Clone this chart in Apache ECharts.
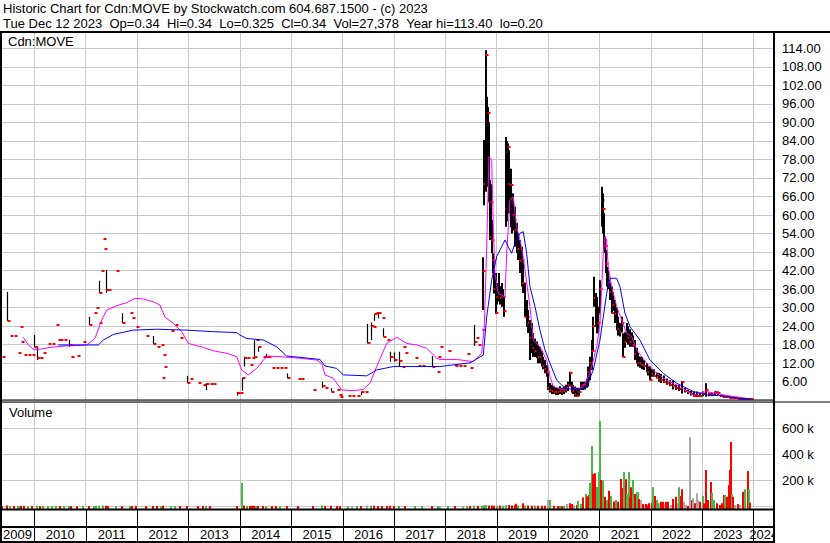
<!DOCTYPE html>
<html><head><meta charset="utf-8">
<script src="https://cdn.jsdelivr.net/npm/echarts@6/dist/echarts.min.js"></script>
<style>html,body{margin:0;padding:0;background:#fff}#c{width:830px;height:543px}</style>
</head><body><div id="c"></div>
<script>
// ---------- DATA ----------
const headerLine1 = 'Historic Chart for Cdn:MOVE by Stockwatch.com 604.687.1500 - (c) 2023';
const headerLine2 = 'Tue Dec 12 2023  Op=0.34  Hi=0.34  Lo=0.325  Cl=0.34  Vol=27,378  Year hi=113.40  lo=0.20';
const symbolName = 'Cdn:MOVE';
const volumeTitle = 'Volume';
const yearLabels = ['2009','2010','2011','2012','2013','2014','2015','2016','2017','2018','2019','2020','2021','2022','2023','2024'];
const yearBoundaries = [2010,2011,2012,2013,2014,2015,2016,2017,2018,2019,2020,2021,2022,2023,2024];
const timeRange = [2009.332, 2024.397];
const priceRange = [0, 119.3];
const priceStep = 6;
const volumeRange = [0, 800000];
const volumeStep = 200000;

// OHLC bars: time (decimal year), high, low, close
const barT = [2009.371,2009.474,2009.527,2009.604,2009.682,2009.721,2009.741,2009.799,2009.877,2009.955,
2010.000,2010.046,2010.111,2010.169,2010.266,2010.344,2010.422,2010.455,2010.500,2010.578,2010.681,2010.714,2010.831,2010.942,
2011.070,2011.162,2011.200,2011.253,2011.265,2011.298,2011.331,2011.356,2011.395,2011.434,2011.584,2011.706,2011.862,2011.901,2011.979,
2012.168,2012.304,2012.388,2012.466,2012.490,2012.510,2012.530,2012.660,2012.738,2012.835,2012.972,
2013.030,2013.191,2013.277,2013.336,2013.419,2013.478,2013.939,
2014.003,2014.048,2014.081,2014.139,2014.198,2014.237,2014.276,2014.309,2014.359,2014.451,2014.503,2014.548,2014.620,2014.704,2014.782,2014.860,2014.924,
2015.132,2015.190,2015.430,2015.599,2015.657,2015.774,2015.891,2015.930,2015.949,
2016.105,2016.183,2016.280,2016.358,2016.436,2016.481,2016.547,2016.586,2016.611,2016.650,2016.695,2016.761,2016.792,2016.858,2016.917,
2017.006,2017.098,2017.150,2017.170,2017.215,2017.409,2017.468,2017.545,2017.746,2017.832,2017.851,2017.896,
2018.051,2018.188,2018.266,2018.343,2018.415,2018.480,2018.557,2018.596,2018.635,2018.707,
2018.739,2018.758,2018.785,2018.805,2018.824,2018.855,2018.869,2018.888,2018.914,2018.933,2018.953,2018.986,
2019.015,2019.050,2019.073,2019.097,2019.122,2019.147,2019.180,2019.194,2019.213,2019.239,2019.272,2019.291,2019.322,2019.355,2019.389,2019.420,2019.453,2019.486,2019.517,2019.550,2019.583,2019.614,2019.647,2019.680,2019.712,2019.745,2019.778,2019.809,2019.842,2019.875,2019.906,2019.939,2019.972,
2020.004,2020.037,2020.076,2020.114,2020.153,2020.192,2020.231,2020.270,2020.309,2020.348,2020.387,2020.426,2020.459,2020.494,2020.523,2020.562,2020.601,2020.640,2020.679,2020.718,2020.757,2020.782,2020.815,2020.848,2020.879,2020.899,2020.926,2020.946,2020.977,
2021.010,2021.043,2021.062,2021.088,2021.107,2021.127,2021.152,2021.171,2021.204,2021.237,2021.269,2021.302,2021.335,2021.366,2021.399,2021.432,2021.463,2021.496,2021.529,2021.561,2021.594,2021.627,2021.658,2021.691,2021.724,2021.755,2021.788,2021.827,2021.866,2021.919,2021.954,2021.983,
2022.022,2022.061,2022.113,2022.158,2022.207,2022.255,2022.314,2022.372,2022.431,2022.489,2022.547,2022.612,2022.664,2022.723,2022.781,2022.839,2022.898,2022.956,
2023.014,2023.073,2023.131,2023.190,2023.248,2023.306,2023.365,2023.423,2023.482,2023.540,2023.598,2023.657,2023.715,2023.774,2023.832,2023.890,2023.949];
const barHigh = [14.1,35.1,20.9,20.9,15.4,23.8,19.0,14.6,14.6,14.6,
21.1,17.3,13.6,15.3,18.2,18.2,24.4,19.5,19.5,19.5,19.5,14.1,14.3,19.0,
27.0,28.2,29.9,25.1,38.7,41.8,52.3,49.0,42.2,35.7,41.9,28.2,28.1,26.7,23.8,
20.8,20.8,17.3,17.9,7.3,14.6,10.9,22.5,24.4,20.1,7.9,
7.0,5.7,4.9,5.5,5.2,5.2,2.7,
2.3,7.3,14.1,13.6,11.4,13.6,19.5,19.5,17.3,14.1,15.0,14.1,10.5,10.5,10.5,10.5,8.7,
6.9,6.9,3.3,6.0,4.0,3.9,3.3,1.6,1.1,
1.4,1.4,1.4,2.8,2.5,24.7,25.2,23.8,27.9,28.1,28.1,26.7,23.3,19.5,15.7,
15.5,15.7,10.9,17.3,15.2,13.8,11.1,11.1,14.3,9.2,14.1,17.3,
16.0,11.5,11.1,11.1,15.0,10.5,24.4,20.0,18.0,22.7,
46.3,84.3,113.4,98.3,95.0,90.0,71.3,70.0,58.4,47.6,42.2,41.2,
38.0,41.2,37.0,38.0,36.0,33.5,85.3,84.0,83.2,81.0,75.0,67.0,67.0,62.7,57.4,54.1,51.9,49.7,45.4,38.0,32.5,29.2,26.0,25.0,21.8,20.0,19.0,18.0,17.3,16.0,14.1,13.0,11.4,
8.7,5.6,5.0,4.5,4.0,4.0,4.5,4.0,4.5,5.0,6.0,9.2,6.0,5.0,4.4,4.0,4.0,6.0,6.0,6.0,7.0,10.9,14.1,19.5,27.0,40.0,34.7,33.5,30.3,
38.9,69.2,67.0,60.6,53.0,48.7,43.2,42.0,38.0,36.8,35.0,32.5,30.0,27.0,25.0,27.0,21.7,22.0,25.0,24.0,23.0,22.0,21.0,19.5,17.0,15.3,14.1,14.0,13.0,12.0,11.0,10.9,
10.0,10.0,9.0,8.8,8.5,8.0,7.0,6.5,6.5,5.0,5.0,6.2,4.0,3.5,3.0,2.8,2.8,2.5,
2.8,5.5,2.5,2.3,2.8,2.8,1.7,1.5,1.3,1.2,1.0,0.9,0.8,0.7,0.6,0.5,0.34];
const barLow = [14.1,25.7,20.9,20.9,15.4,23.8,19.0,14.6,14.6,14.6,
17.3,13.0,13.6,15.3,18.2,18.2,24.4,19.5,19.5,19.5,17.3,14.1,14.3,19.0,
24.4,28.2,29.9,25.1,34.8,41.8,52.3,49.0,34.8,35.7,41.9,25.1,28.1,26.7,23.8,
20.8,18.2,17.3,17.9,7.3,14.6,10.9,22.5,24.4,20.1,5.6,
7.0,5.7,4.9,3.3,5.2,5.2,1.5,
2.3,3.1,10.9,13.6,11.4,13.6,14.1,19.5,15.7,14.1,13.7,14.1,10.5,10.5,10.5,10.5,7.1,
6.9,6.9,3.3,4.0,4.0,2.8,3.3,1.6,1.1,
1.4,1.4,1.4,1.7,2.5,18.4,19.5,23.8,25.7,28.1,26.5,26.7,20.6,19.5,12.5,
12.5,10.9,10.9,17.3,15.2,13.8,11.1,11.1,10.9,9.2,14.1,17.3,
16.0,11.1,11.1,11.1,15.0,10.5,17.6,20.0,18.0,22.7,
29.2,63.2,67.5,83.2,69.2,64.3,51.9,55.0,47.6,41.1,34.6,28.0,
31.0,32.0,31.0,30.3,31.0,27.0,56.2,58.0,60.5,60.6,56.0,54.0,55.0,49.7,47.7,45.4,41.2,36.8,34.7,27.0,23.8,21.8,13.0,15.3,14.0,14.0,13.7,12.0,12.0,10.9,10.0,8.7,7.6,
3.3,2.5,2.0,2.0,1.7,1.7,2.0,1.7,2.0,2.5,3.0,4.4,2.5,2.0,1.1,1.1,1.5,3.3,3.3,3.5,4.0,4.4,6.5,9.8,16.3,30.3,23.8,21.7,21.7,
28.2,56.2,54.0,48.7,47.7,41.2,36.8,36.0,32.5,28.2,29.0,25.0,22.7,21.0,20.6,22.0,14.1,17.0,19.0,18.0,17.3,17.3,17.3,13.0,12.0,10.9,10.5,10.0,9.8,9.0,8.0,6.5,
7.6,7.6,7.0,6.0,5.6,5.6,5.0,4.5,3.5,3.3,3.0,2.2,2.5,2.0,1.5,1.1,1.1,1.1,
1.3,1.1,1.3,1.3,1.7,1.7,1.0,0.8,0.7,0.6,0.5,0.4,0.3,0.3,0.3,0.3,0.325];
const barClose = [14.1,25.7,20.9,20.9,15.4,23.8,19.0,14.6,14.6,14.6,
17.3,13.7,13.6,15.3,18.2,18.2,24.4,19.5,19.5,19.5,18.0,14.1,14.3,19.0,
24.4,28.2,29.9,25.1,34.8,41.8,52.3,49.0,35.7,35.7,41.9,25.1,28.1,26.7,23.8,
20.8,18.2,17.3,17.9,7.3,14.6,10.9,22.5,24.4,20.1,5.6,
7.0,5.7,4.9,5.2,5.2,5.2,2.3,
2.3,7.3,13.6,13.6,11.4,13.6,14.1,19.5,17.3,14.1,14.1,14.1,10.5,10.5,10.5,10.5,7.1,
6.9,6.9,3.3,4.5,4.0,2.8,3.3,1.6,1.1,
1.4,1.4,1.4,2.8,2.5,18.4,24.0,23.8,27.9,28.1,28.1,26.7,20.6,19.5,14.1,
13.0,12.7,10.9,17.3,15.2,13.8,11.1,11.1,10.9,9.2,14.1,17.3,
16.0,11.1,11.1,11.1,15.0,10.5,19.0,20.0,18.0,22.7,
42.0,70.0,112.0,90.0,93.0,64.3,52.9,64.3,52.0,45.4,36.0,28.2,
33.5,34.6,33.0,33.5,33.5,29.0,62.0,80.0,82.0,70.0,69.7,62.0,60.0,55.0,50.0,49.0,45.0,45.4,38.0,27.0,27.0,25.0,20.0,18.0,17.0,16.0,15.5,14.0,14.0,13.0,11.0,10.0,9.0,
4.0,3.3,3.0,2.8,2.5,2.5,3.0,2.5,3.0,3.3,5.0,8.7,4.0,3.0,2.0,1.3,2.5,4.4,5.0,5.0,6.0,9.0,12.0,16.0,24.0,33.0,30.0,28.0,25.0,
36.0,65.0,62.0,52.0,50.0,44.0,40.0,38.0,35.0,28.2,31.0,28.0,25.0,23.0,22.0,25.0,14.1,19.0,22.0,20.0,19.0,19.0,18.0,15.0,14.0,12.0,12.0,11.5,11.0,10.0,9.0,6.5,
8.5,8.0,7.5,7.0,6.5,6.0,5.5,5.0,4.5,4.0,3.5,6.0,3.0,2.5,2.0,1.5,1.5,1.5,
2.0,3.3,2.0,1.7,2.5,2.3,1.2,1.0,0.9,0.8,0.7,0.6,0.5,0.4,0.4,0.35,0.34];

// Short moving average (magenta)
const maFastT = [2009.785,2009.883,2009.980,2010.111,2010.305,2010.630,2011.019,2011.181,2011.311,2011.409,2011.634,2011.798,2011.959,2012.121,2012.316,2012.446,2012.543,2012.705,2012.868,2012.997,2013.289,2013.483,2013.744,2013.939,2014.036,2014.165,2014.328,2014.490,2014.554,2014.782,2015.171,2015.496,2015.593,2015.657,2015.819,2015.983,2016.208,2016.403,2016.533,2016.664,2016.858,2017.053,2017.248,2017.442,2017.637,2017.832,2017.896,2018.221,2018.544,2018.707,2018.758,2018.805,2018.849,2018.902,2018.933,2018.966,2019.030,2019.161,2019.194,2019.258,2019.322,2019.389,2019.453,2019.505,2019.550,2019.647,2019.712,2019.842,2019.972,2020.037,2020.101,2020.296,2020.459,2020.556,2020.685,2020.815,2020.946,2021.010,2021.074,2021.107,2021.140,2021.171,2021.237,2021.335,2021.432,2021.529,2021.627,2021.724,2021.919,2022.113,2022.308,2022.567,2022.826,2023.087,2023.410,2023.735,2023.949];
const maFastV = [20.4,17.9,16.5,16.5,17.1,17.6,17.9,20.0,26.0,29.2,30.8,31.6,33.0,32.8,31.9,30.8,26.9,24.9,22.2,18.4,17.1,16.0,15.2,14.1,9.8,8.2,10.3,13.6,14.3,14.1,13.6,13.0,11.9,8.2,7.1,3.3,3.1,3.5,5.5,10.9,18.4,20.4,18.4,17.9,16.8,13.6,13.2,13.2,12.5,15.2,23.8,49.7,78.9,77.8,56.2,41.1,34.6,33.5,47.6,64.9,65.9,56.2,51.9,47.6,42.2,30.3,19.5,17.3,13.0,7.6,4.4,3.3,4.9,3.3,4.4,8.7,17.3,24.9,47.6,53.0,51.9,43.2,36.8,30.3,26.0,21.7,20.6,16.3,12.0,8.7,6.5,4.4,1.7,2.8,1.7,0.9,0.4];

// Long moving average (blue)
const maSlowT = [2010.467,2011.245,2011.343,2011.537,2011.926,2012.382,2012.966,2013.483,2013.939,2014.003,2014.134,2014.457,2014.717,2014.912,2015.171,2015.560,2015.657,2015.885,2016.014,2016.469,2016.664,2016.987,2017.896,2018.480,2018.739,2018.805,2018.902,2018.999,2019.161,2019.225,2019.291,2019.355,2019.453,2019.517,2019.583,2019.647,2019.745,2019.842,2019.939,2020.037,2020.167,2020.329,2020.556,2020.751,2020.879,2021.010,2021.140,2021.204,2021.335,2021.399,2021.496,2021.594,2021.788,2021.983,2022.242,2022.503,2022.826,2023.087,2023.410,2023.735,2023.949];
const maSlowV = [17.9,17.9,19.5,21.3,22.7,23.0,22.7,22.2,21.9,21.1,20.0,19.5,17.3,14.3,13.9,13.2,11.1,10.3,8.2,7.9,9.8,10.9,10.9,12.1,14.6,27.0,38.9,46.5,51.9,49.7,47.6,50.8,54.1,54.6,47.6,36.8,30.3,22.7,16.3,12.0,6.5,3.9,3.3,4.4,9.8,19.5,34.6,39.5,39.5,36.8,28.2,23.8,19.5,13.0,8.7,5.5,2.8,1.7,1.4,0.6,0.5];

// Volume: time, shares, direction (g = up, r = down, n = unchanged)
const volT = [2009.371,2009.474,2009.527,2009.604,2009.682,2009.721,2009.741,2009.799,2009.877,2009.955,
2010.046,2010.111,2010.169,2010.266,2010.344,2010.422,2010.500,2010.578,2010.681,2010.714,2010.831,2010.942,
2011.070,2011.162,2011.200,2011.253,2011.265,2011.331,2011.395,2011.434,2011.584,2011.706,2011.862,2011.901,2011.979,
2012.168,2012.304,2012.388,2012.466,2012.504,2012.660,2012.738,2012.835,2012.972,
2013.191,2013.277,2013.336,2013.419,2013.939,
2014.036,2014.081,2014.139,2014.198,2014.237,2014.276,2014.309,2014.359,2014.451,2014.503,2014.620,2014.704,2014.782,2014.924,
2015.132,2015.430,2015.599,2015.657,2015.774,2015.891,2015.949,
2016.105,2016.183,2016.280,2016.358,2016.481,2016.547,2016.611,2016.695,2016.761,2016.858,2016.917,
2017.006,2017.098,2017.215,2017.409,2017.545,2017.746,2017.851,2017.896,
2018.051,2018.188,2018.343,2018.415,2018.480,2018.557,2018.635,2018.707,2018.758,2018.785,2018.855,2018.914,2018.953,
2019.015,2019.073,2019.122,2019.180,2019.239,2019.291,2019.355,2019.369,2019.420,2019.511,2019.550,2019.614,2019.680,2019.745,2019.809,2019.875,2019.939,2019.990,
2020.030,2020.114,2020.192,2020.231,2020.270,2020.309,2020.368,2020.426,2020.459,2020.504,2020.562,2020.587,2020.640,2020.679,2020.737,2020.766,2020.802,2020.815,2020.848,2020.879,2020.912,2020.946,2020.990,
2021.010,2021.039,2021.074,2021.117,2021.146,2021.191,2021.234,2021.282,2021.321,2021.366,2021.413,2021.438,2021.477,2021.516,2021.541,2021.568,2021.594,2021.613,2021.658,2021.691,2021.724,2021.749,2021.760,2021.778,2021.814,2021.847,2021.880,2021.905,2021.940,2021.963,
2022.016,2022.047,2022.080,2022.113,2022.148,2022.170,2022.197,2022.246,2022.270,2022.294,2022.339,2022.386,2022.437,2022.489,2022.520,2022.553,2022.581,2022.612,2022.645,2022.684,2022.720,2022.756,2022.795,2022.826,2022.860,2022.892,2022.923,2022.956,
2023.009,2023.040,2023.073,2023.118,2023.164,2023.190,2023.234,2023.287,2023.345,2023.394,2023.423,2023.449,2023.476,2023.521,2023.540,2023.559,2023.579,2023.604,2023.647,2023.696,2023.744,2023.799,2023.826,2023.884,2023.910,2023.939];
const volV = [5000,8000,6000,5000,4000,6000,5000,4000,5000,4000,
6000,5000,4000,5000,4000,6000,4000,5000,4000,5000,3000,4000,
5000,5000,6000,4000,7000,8000,7000,5000,4000,5000,4000,4000,5000,
4000,5000,4000,5000,6000,4000,5000,4000,5000,
4000,4000,5000,4000,5000,
183000,8000,6000,5000,6000,7000,5000,5000,4000,5000,4000,4000,3000,4000,
4000,4000,8000,5000,6000,5000,4000,
3000,4000,4000,5000,8000,6000,6000,5000,4000,5000,6000,
5000,4000,4000,4000,4000,5000,5000,4000,
4000,4000,5000,4000,4000,8000,6000,6000,10000,12000,9000,8000,6000,
7000,8000,6000,10000,12000,9000,10000,22000,8000,25000,9000,8000,7000,8000,7000,6000,7000,50000,
50000,6000,5000,6000,5000,6000,20000,25000,20000,10000,15000,43000,20000,70000,97000,80000,89000,183000,464000,250000,255000,150000,268000,
656000,204000,200000,76000,50000,122000,81000,40000,50000,37000,211000,142000,265000,209000,97000,265000,76000,148000,204000,97000,110000,110000,58000,37000,50000,20000,15000,20000,12000,25000,
30000,148000,81000,50000,30000,25000,37000,37000,20000,37000,37000,12000,58000,76000,25000,148000,81000,132000,37000,12000,5000,531000,50000,64000,25000,102000,50000,37000,
81000,25000,280000,50000,188000,106000,50000,25000,12000,25000,89000,89000,76000,165000,280000,495000,97000,76000,12000,20000,12000,114000,132000,273000,132000,30000];
const volDir = ['r','r','g','r','g','g','r','r','g','r',
'g','r','g','g','g','g','r','g','g','r','r','g',
'r','g','g','r','g','g','r','r','g','r','g','r','r',
'r','r','r','g','r','g','g','r','r',
'r','r','g','r','r',
'g','r','g','r','r','r','g','r','r','g','r','r','g','r',
'r','r','g','r','r','r','r',
'g','n','g','r','n','g','r','r','r','r','r',
'r','g','r','g','g','r','g','n',
'g','r','n','g','r','g','r','g','g','g','r','r','r',
'g','r','g','g','r','r','r','r','g','r','g','r','r','g','r','r','r','n',
'g','r','r','g','r','g','n','r','r','n','r','g','g','r','g','r','r','g','g','r','r','g','g',
'g','r','g','r','g','r','g','r','g','r','r','r','g','r','g','g','r','r','g','r','g','g','r','r','n','r','n','r','r','r',
'r','g','r','g','g','n','r','r','n','r','r','n','r','r','n','g','r','r','n','n','r','n','r','n','r','n','n','r',
'g','r','r','r','r','g','g','r','r','r','r','g','r','r','r','r','g','r','n','r','n','r','g','r','g','r'];

// ---------- CHART ----------
const FONT = '"Liberation Sans", Arial, sans-serif';
const volColors = { g: '#4cb84c', r: '#ff0000', n: '#a8a8a8' };
// keep the double spacing visible in SVG text
const keepSpaces = s => s.replace(/  /g, ' \u00a0');

const labelCenters = yearLabels.map((y, i) => {
  const lo = Math.max(2009 + i, timeRange[0]);
  const hi = Math.min(2010 + i, timeRange[1]);
  return (lo + hi) / 2;
});

function renderBar(params, api) {
  const t = api.value(0);
  const pH = api.coord([t, api.value(1)]);
  const pL = api.coord([t, api.value(2)]);
  const pC = api.coord([t, api.value(3)]);
  const dense = t > 2018.72;
  const x = dense ? Math.round(pH[0]) : Math.round(pH[0]) + 0.5;
  const children = [];
  if (pL[1] - pH[1] >= 1) {
    children.push({ type: 'line', shape: { x1: x, y1: pH[1], x2: x, y2: pL[1] },
      style: { stroke: '#000', lineWidth: dense ? 2 : 1.2 } });
  }
  children.push({ type: 'rect', shape: { x: Math.round(x) - 0.5, y: Math.round(pC[1]) - 1, width: 3, height: 2 }, style: { fill: '#ff0000' } });
  return { type: 'group', children };
}

function renderVol(params, api) {
  const t = api.value(0);
  const p = api.coord([t, api.value(1)]);
  const b = api.coord([t, 0]);
  const x = Math.round(p[0]) - 1;
  const base = b[1] + 2.4;
  return { type: 'rect', shape: { x: x, y: p[1], width: 2, height: base - p[1] },
    style: { fill: volColors[volDir[params.dataIndex]] } };
}

const gridSplit = { show: true, lineStyle: { color: '#c8c8c8', width: 1 } };
function baseX(gridIndex) {
  return {
    type: 'value', gridIndex, min: timeRange[0], max: timeRange[1],
    axisLine: { show: false }, axisLabel: { show: false },
    axisTick: { show: false, customValues: yearBoundaries },
    splitLine: gridSplit
  };
}

const chart = echarts.init(document.getElementById('c'), null, { renderer: 'svg', width: 830, height: 543 });
chart.setOption({
  animation: false,
  backgroundColor: '#fff',
  grid: [
    { left: 0, top: 32, width: 774, height: 368.2 },
    { left: 0, top: 402.2, width: 774, height: 104.4 },
    { left: 0, top: 510, width: 774, height: 32 }
  ],
  xAxis: [
    baseX(0),
    baseX(1),
    {
      type: 'value', gridIndex: 2, min: timeRange[0], max: timeRange[1],
      axisLine: { show: false },
      splitLine: { show: false },
      axisTick: { show: true, customValues: yearBoundaries, inside: true, length: 32, lineStyle: { color: '#000', width: 1 } },
      axisLabel: { show: true, customValues: labelCenters, inside: true, margin: 7.5, verticalAlign: 'middle',
        formatter: v => yearLabels[Math.floor(v) - 2009], fontSize: 13, fontFamily: FONT, color: '#000' }
    }
  ],
  yAxis: [
    { type: 'value', gridIndex: 0, position: 'right', min: priceRange[0], max: priceRange[1], interval: priceStep,
      axisLine: { show: false }, axisTick: { show: false }, splitLine: gridSplit,
      axisLabel: { formatter: v => v.toFixed(2), showMaxLabel: false, showMinLabel: false, margin: 8,
        fontSize: 13, fontFamily: FONT, color: '#000' } },
    { type: 'value', gridIndex: 1, position: 'right', min: volumeRange[0], max: volumeRange[1], interval: volumeStep,
      axisLine: { show: false }, axisTick: { show: false }, splitLine: gridSplit,
      axisLabel: { formatter: v => (v / 1000) + ' k', showMaxLabel: false, showMinLabel: false, margin: 8,
        fontSize: 13, fontFamily: FONT, color: '#000' } },
    { type: 'value', gridIndex: 2, show: false, min: 0, max: 1 }
  ],
  series: [
    { type: 'custom', name: 'price', xAxisIndex: 0, yAxisIndex: 0, renderItem: renderBar,
      data: barT.map((t, i) => [t, barHigh[i], barLow[i], barClose[i]]), encode: { x: 0, y: [1, 2, 3] }, z: 2 },
    { type: 'line', name: 'ma short', xAxisIndex: 0, yAxisIndex: 0, showSymbol: false, symbol: 'none',
      data: maFastT.map((t, i) => [t, maFastV[i]]), lineStyle: { color: '#ff00ff', width: 1 }, z: 3 },
    { type: 'line', name: 'ma long', xAxisIndex: 0, yAxisIndex: 0, showSymbol: false, symbol: 'none',
      data: maSlowT.map((t, i) => [t, maSlowV[i]]), lineStyle: { color: '#0000ff', width: 1 }, z: 4 },
    { type: 'custom', name: 'volume', xAxisIndex: 1, yAxisIndex: 1, renderItem: renderVol,
      data: volT.map((t, i) => [t, volV[i]]), encode: { x: 0, y: 1 }, z: 2 }
  ],
  graphic: [
    { type: 'text', z: 100, style: { x: 3, y: 8.5, text: headerLine1, font: '13px ' + FONT, fill: '#000', verticalAlign: 'middle' } },
    { type: 'text', z: 100, style: { x: 3, y: 23.5, text: keepSpaces(headerLine2), font: '13px ' + FONT, fill: '#000', verticalAlign: 'middle' } },
    { type: 'text', z: 100, style: { x: 8, y: 41, text: symbolName, font: '13px ' + FONT, fill: '#000', verticalAlign: 'middle' } },
    { type: 'text', z: 100, style: { x: 9, y: 412.5, text: volumeTitle, font: '13px ' + FONT, fill: '#000', verticalAlign: 'middle' } },
    { type: 'rect', z: 100, shape: { x: 775, y: 509, width: 55, height: 34 }, style: { fill: '#fff' } },
    { type: 'rect', z: 101, shape: { x: 0, y: 31, width: 830, height: 2 }, style: { fill: '#000' } },
    { type: 'rect', z: 101, shape: { x: 0, y: 31, width: 2, height: 512 }, style: { fill: '#000' } },
    { type: 'rect', z: 101, shape: { x: 773, y: 31, width: 2, height: 512 }, style: { fill: '#000' } },
    { type: 'rect', z: 101, shape: { x: 0, y: 399.5, width: 774, height: 1 }, style: { fill: '#000' } },
    { type: 'rect', z: 101, shape: { x: 0, y: 401.5, width: 830, height: 1 }, style: { fill: '#000' } },
    { type: 'rect', z: 101, shape: { x: 0, y: 508.5, width: 774, height: 2 }, style: { fill: '#000' } },
    { type: 'rect', z: 101, shape: { x: 0, y: 526, width: 774, height: 2 }, style: { fill: '#000' } },
    { type: 'rect', z: 101, shape: { x: 0, y: 541, width: 774, height: 2 }, style: { fill: '#000' } }
  ]
});
</script></body></html>
